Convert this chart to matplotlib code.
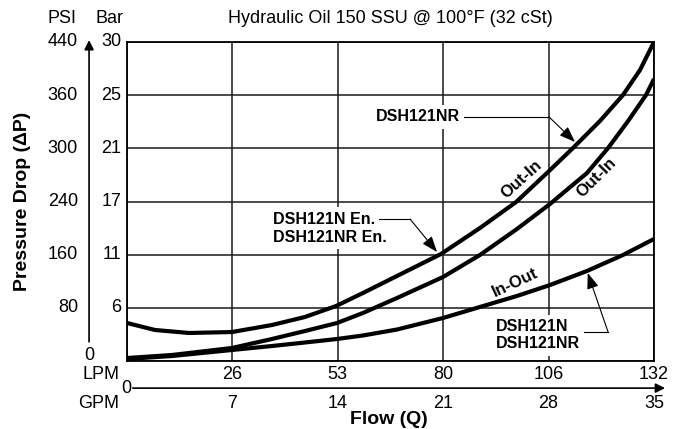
"""
Pressure drop vs flow for DSH121 filter housings
Uneven pressure scale: one grid row per labelled line
"""

import matplotlib.pyplot as plt

plt.rcParams['font.family'] = ['Liberation Sans', 'DejaVu Sans']

# x grid in GPM with the matching LPM labels
gpm_ticks = [0, 7, 14, 21, 28, 35]
gpm_labels = ['', '7', '14', '21', '28', '35']
lpm_labels = ['', '26', '53', '80', '106', '132']

# y grid rows (chart scale is not linear, so rows are indices)
rows = [0, 1, 2, 3, 4, 5, 6]
bar_labels = ['', '6', '11', '17', '21', '25', '30']
psi_labels = ['', '80', '160', '240', '300', '360', '440']

# curves (x = GPM, y = grid row)
en_gpm = [0, 1.86, 4.12, 6.97, 9.63, 11.82, 13.88, 15.67, 17.93, 20.85, 23.44,
          25.84, 27.96, 29.62, 31.41, 32.94, 34.07, 35]
en_row = [0.715, 0.583, 0.527, 0.545, 0.677, 0.828, 1.034, 1.279, 1.599, 2.012, 2.501,
          2.990, 3.555, 4.006, 4.514, 5.003, 5.473, 6.0]

outin_gpm = [0, 2.99, 6.97, 9.63, 11.82, 13.95, 15.67, 17.93, 20.99, 23.44, 25.90,
             28.09, 30.55, 31.95, 33.28, 34.47, 35]
outin_row = [0.056, 0.113, 0.245, 0.414, 0.564, 0.715, 0.903, 1.185, 1.580, 1.994, 2.483,
             2.953, 3.536, 4.006, 4.514, 5.003, 5.304]

inout_gpm = [0, 2.99, 6.97, 9.63, 11.82, 13.95, 15.67, 17.93, 20.99, 23.44, 25.90,
             28.09, 30.55, 32.94, 35]
inout_row = [0.038, 0.094, 0.207, 0.282, 0.348, 0.414, 0.480, 0.592, 0.809, 1.016, 1.223,
             1.429, 1.693, 1.994, 2.295]

fig = plt.figure(figsize=(6.85, 4.29), dpi=100)
ax = fig.add_axes([127 / 685, 68 / 429, 527 / 685, 319 / 429])

ax.set_xlim(0, 35)
ax.set_ylim(0, 6)
ax.set_xticks(gpm_ticks)
ax.set_yticks(rows)
ax.tick_params(length=0, labelbottom=False, labelleft=False)
ax.set_axisbelow(True)
ax.grid(True, color='#1a1a1a', linewidth=1.1)
for sp in ax.spines.values():
    sp.set_linewidth(1.3)

# curves
for xs, ys in [(en_gpm, en_row), (outin_gpm, outin_row), (inout_gpm, inout_row)]:
    ax.plot(xs, ys, color='k', linewidth=3, solid_joinstyle='round',
            solid_capstyle='butt')

# y axis labels
ytr = ax.get_yaxis_transform()
for r, p, b in zip(rows, psi_labels, bar_labels):
    ax.text(-0.093, r, p, transform=ytr, ha='right', va='center', fontsize=13)
    ax.text(-0.011, r, b, transform=ytr, ha='right', va='center', fontsize=13)
ax.text(-0.072, 0.016, '0', transform=ax.transAxes, ha='center', va='center', fontsize=13)
ax.text(-0.095, 1.075, 'PSI', transform=ax.transAxes, ha='right', va='center', fontsize=13)
ax.text(-0.006, 1.075, 'Bar', transform=ax.transAxes, ha='right', va='center', fontsize=13)
ax.annotate('', xy=(-0.072, 1.006), xytext=(-0.072, 0.06), xycoords='axes fraction',
            arrowprops=dict(arrowstyle='-|>', lw=1.2, color='k', mutation_scale=14,
                            shrinkA=0, shrinkB=0), annotation_clip=False)
ax.text(-0.199, 0.5, 'Pressure Drop (\u0394P)', transform=ax.transAxes, rotation=90,
        ha='center', va='center', fontsize=14, fontweight='bold')

# x axis labels
xtr = ax.get_xaxis_transform()
for g, lpm, gl in zip(gpm_ticks, lpm_labels, gpm_labels):
    ax.text(g, -0.041, lpm, transform=xtr, ha='center', va='center', fontsize=13)
    ax.text(g, -0.132, gl, transform=xtr, ha='center', va='center', fontsize=13)
ax.text(-0.015, -0.041, 'LPM', transform=ax.transAxes, ha='right', va='center', fontsize=13)
ax.text(-0.015, -0.132, 'GPM', transform=ax.transAxes, ha='right', va='center', fontsize=13)
ax.text(-0.002, -0.085, '0', transform=ax.transAxes, ha='center', va='center', fontsize=13)
ax.annotate('', xy=(1.021, -0.085), xytext=(0.011, -0.085), xycoords='axes fraction',
            arrowprops=dict(arrowstyle='-|>', lw=1.2, color='k', mutation_scale=14,
                            shrinkA=0, shrinkB=0), annotation_clip=False)
ax.text(0.497, -0.182, 'Flow (Q)', transform=ax.transAxes, ha='center', va='center',
        fontsize=14, fontweight='bold')

ax.text(0.5, 1.075, 'Hydraulic Oil 150 SSU @ 100\u00b0F (32 cSt)', transform=ax.transAxes,
        ha='center', va='center', fontsize=13)

# callouts
box = dict(facecolor='white', edgecolor='none', pad=3)
arrow = dict(arrowstyle='-|>,head_length=0.8,head_width=0.3', lw=0.8, color='k',
             mutation_scale=12, shrinkA=0, shrinkB=0)
lab = dict(fontsize=11.5, fontweight='bold', va='center', ha='left', bbox=box)

ax.text(16.54, 4.59, 'DSH121NR', **lab)
ax.plot([22.3, 28.03], [4.59, 4.59], color='k', lw=0.8)
ax.annotate('', xy=(29.75, 4.12), xytext=(28.03, 4.59), arrowprops=arrow)

ax.text(9.70, 2.67, 'DSH121N En.', **lab)
ax.text(9.70, 2.33, 'DSH121NR En.', **lab)
ax.plot([16.27, 18.8], [2.67, 2.67], color='k', lw=0.8)
ax.annotate('', xy=(20.59, 2.05), xytext=(18.8, 2.67), arrowprops=arrow)

ax.text(24.5, 0.64, 'DSH121N', **lab)
ax.text(24.5, 0.32, 'DSH121NR', **lab)
ax.plot([29.9, 31.95], [0.545, 0.545], color='k', lw=0.8)
ax.annotate('', xy=(30.6, 1.655), xytext=(31.95, 0.545), arrowprops=arrow)

ax.text(26.2, 3.42, 'Out-In', rotation=42, ha='center', va='center',
        fontsize=12, fontweight='bold')
ax.text(31.2, 3.46, 'Out-In', rotation=45, ha='center', va='center',
        fontsize=12, fontweight='bold')
ax.text(25.8, 1.47, 'In-Out', rotation=25, ha='center', va='center',
        fontsize=12, fontweight='bold')

fig.savefig('out.png', dpi=100)
